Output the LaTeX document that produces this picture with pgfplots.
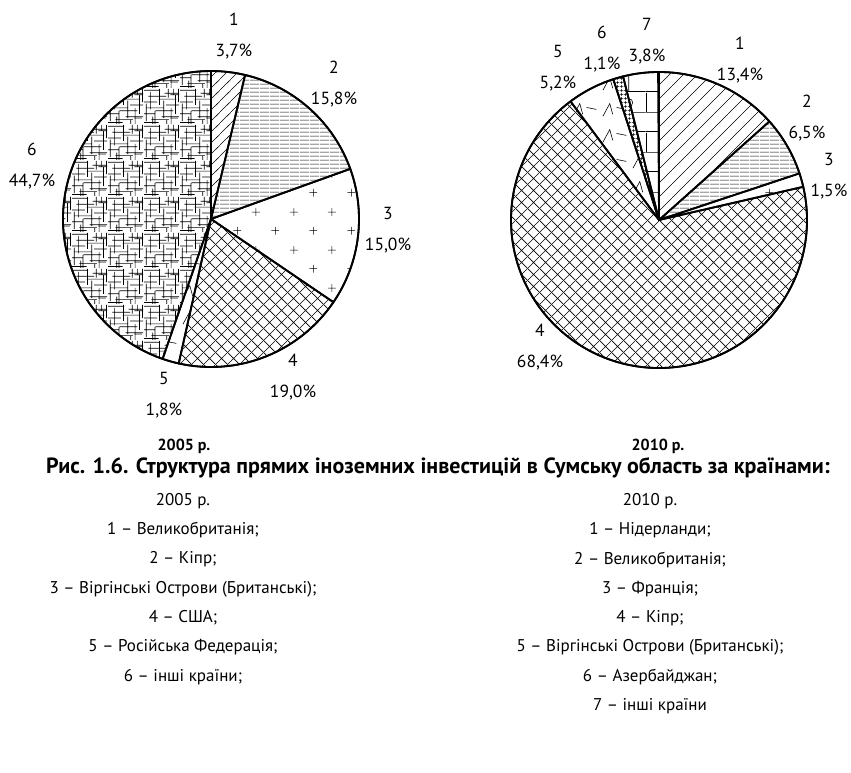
\documentclass[border=0pt]{standalone}
\usepackage{fontspec}
\setmainfont{PT Sans}
\usepackage{pgfplots}
\pgfplotsset{compat=1.18}
\usetikzlibrary{patterns}

% hatch patterns (form only, drawn in black)
\pgfdeclarepatternformonly{my nelines}{\pgfqpoint{0pt}{0pt}}{\pgfqpoint{11pt}{11pt}}{\pgfqpoint{11pt}{11pt}}{%
  \pgfsetlinewidth{0.6pt}%
  \pgfpathmoveto{\pgfqpoint{-1pt}{-1pt}}\pgfpathlineto{\pgfqpoint{12pt}{12pt}}\pgfusepath{stroke}}
\pgfdeclarepatternformonly{my nelineswide}{\pgfqpoint{0pt}{0pt}}{\pgfqpoint{14pt}{14pt}}{\pgfqpoint{14pt}{14pt}}{%
  \pgfsetlinewidth{0.6pt}%
  \pgfpathmoveto{\pgfqpoint{-1pt}{-1pt}}\pgfpathlineto{\pgfqpoint{15pt}{15pt}}\pgfusepath{stroke}}
\pgfdeclarepatternformonly{my hlines}{\pgfqpoint{0pt}{0pt}}{\pgfqpoint{10pt}{4.3pt}}{\pgfqpoint{10pt}{4.3pt}}{%
  \pgfsetlinewidth{0.75pt}%
  \pgfpathmoveto{\pgfqpoint{0pt}{2.15pt}}\pgfpathlineto{\pgfqpoint{10pt}{2.15pt}}\pgfusepath{stroke}}
\pgfdeclarepatternformonly{my xhatch}{\pgfqpoint{0pt}{0pt}}{\pgfqpoint{12pt}{12pt}}{\pgfqpoint{12pt}{12pt}}{%
  \pgfsetlinewidth{0.6pt}%
  \pgfpathmoveto{\pgfqpoint{-1pt}{-1pt}}\pgfpathlineto{\pgfqpoint{13pt}{13pt}}%
  \pgfpathmoveto{\pgfqpoint{-1pt}{13pt}}\pgfpathlineto{\pgfqpoint{13pt}{-1pt}}\pgfusepath{stroke}}
\pgfdeclarepatternformonly{my plus}{\pgfqpoint{0pt}{0pt}}{\pgfqpoint{38pt}{38pt}}{\pgfqpoint{38pt}{38pt}}{%
  \pgfsetlinewidth{0.6pt}%
  \pgfpathmoveto{\pgfqpoint{5.5pt}{9.5pt}}\pgfpathlineto{\pgfqpoint{13.5pt}{9.5pt}}%
  \pgfpathmoveto{\pgfqpoint{9.5pt}{5.5pt}}\pgfpathlineto{\pgfqpoint{9.5pt}{13.5pt}}%
  \pgfpathmoveto{\pgfqpoint{24.5pt}{28.5pt}}\pgfpathlineto{\pgfqpoint{32.5pt}{28.5pt}}%
  \pgfpathmoveto{\pgfqpoint{28.5pt}{24.5pt}}\pgfpathlineto{\pgfqpoint{28.5pt}{32.5pt}}\pgfusepath{stroke}}
\pgfdeclarepatternformonly{my finegrid}{\pgfqpoint{0pt}{0pt}}{\pgfqpoint{4pt}{4pt}}{\pgfqpoint{4pt}{4pt}}{%
  \pgfsetlinewidth{0.5pt}%
  \pgfpathmoveto{\pgfqpoint{0pt}{2pt}}\pgfpathlineto{\pgfqpoint{4pt}{2pt}}%
  \pgfpathmoveto{\pgfqpoint{2pt}{0pt}}\pgfpathlineto{\pgfqpoint{2pt}{4pt}}\pgfusepath{stroke}}
\pgfdeclarepatternformonly{my carets}{\pgfqpoint{0pt}{0pt}}{\pgfqpoint{30pt}{26pt}}{\pgfqpoint{30pt}{26pt}}{%
  \pgfsetlinewidth{0.6pt}%
  \pgfpathmoveto{\pgfqpoint{3pt}{6pt}}\pgfpathlineto{\pgfqpoint{10pt}{19pt}}\pgfpathlineto{\pgfqpoint{13pt}{8pt}}%
  \pgfpathmoveto{\pgfqpoint{17pt}{15pt}}\pgfpathlineto{\pgfqpoint{27pt}{13pt}}\pgfusepath{stroke}}
\pgfdeclarepatternformonly{my randbricks}{\pgfqpoint{0pt}{0pt}}{\pgfqpoint{36pt}{36pt}}{\pgfqpoint{36pt}{36pt}}{%
  \pgfsetlinewidth{0.7pt}%
  \foreach \y/\a/\b in {2/0/20,6/10/34,10/24/48,14/0/14,18/16/40,22/4/26,26/30/48,30/0/18,34/20/44,38/6/30,42/28/48,46/0/22,8/36/46,40/36/48}{%
    \pgfpathmoveto{\pgfpoint{0.75*\a pt}{0.75*\y pt}}\pgfpathlineto{\pgfpoint{0.75*\b pt}{0.75*\y pt}}}%
  \foreach \x/\a/\b in {3/4/28,9/20/44,15/0/18,21/26/48,27/8/32,33/36/48,37/0/22,43/14/40,47/30/48,12/0/10,31/0/6,40/40/48}{%
    \pgfpathmoveto{\pgfpoint{0.75*\x pt}{0.75*\a pt}}\pgfpathlineto{\pgfpoint{0.75*\x pt}{0.75*\b pt}}}%
  \pgfusepath{stroke}}
\pgfdeclarepatternformonly{my bricksdot}{\pgfqpoint{0pt}{0pt}}{\pgfqpoint{34pt}{40pt}}{\pgfqpoint{34pt}{40pt}}{%
  \pgfsetlinewidth{0.6pt}%
  \pgfpathmoveto{\pgfqpoint{0pt}{0.5pt}}\pgfpathlineto{\pgfqpoint{34pt}{0.5pt}}%
  \pgfpathmoveto{\pgfqpoint{0pt}{20pt}}\pgfpathlineto{\pgfqpoint{34pt}{20pt}}%
  \pgfpathmoveto{\pgfqpoint{17pt}{0pt}}\pgfpathlineto{\pgfqpoint{17pt}{20pt}}%
  \pgfpathmoveto{\pgfqpoint{0.5pt}{20pt}}\pgfpathlineto{\pgfqpoint{0.5pt}{40pt}}%
  \pgfpathcircle{\pgfqpoint{17pt}{30pt}}{4pt}\pgfusepath{stroke}%
  \pgfpathcircle{\pgfqpoint{17pt}{30pt}}{0.9pt}\pgfusepath{fill}}

% one pie: list of percent/pattern, clockwise from 12 o'clock
\newcommand\piechart[1]{%
  \xdef\cum{90}%
  \foreach \v/\pat in {#1}{%
    \pgfmathsetmacro\a{\cum}%
    \pgfmathsetmacro\b{\cum-3.6*\v}%
    \edef\temp{\noexpand\filldraw[draw=black, line width=1.8pt, line join=round, pattern=\pat]
      (axis cs:0,0) -- ++(\a:148pt) arc[start angle=\a, end angle=\b, radius=148pt] -- cycle;}%
    \temp
    \xdef\cum{\b}%
  }%
  \draw[line width=1.8pt] (axis cs:0,0) circle[radius=148pt];
}
\newcommand\lab[3]{\node[align=center, inner sep=0pt, font=\fontsize{17.5}{31}\selectfont] at (#1pt,-#2pt) {#3};}

\pgfplotsset{pieaxis/.style={anchor=center, x=1pt, y=1pt,
  xmin=-160, xmax=160, ymin=-160, ymax=160, hide axis, clip=false}}

\begin{document}
\begin{tikzpicture}
\useasboundingbox (0,0) rectangle (851pt,-772pt);

% 2005
\begin{axis}[pieaxis, at={(211pt,-219pt)}]
\piechart{3.7/my nelines, 15.8/my hlines, 15.0/my plus, 19.0/my xhatch, 1.8/my carets, 44.7/my randbricks}
\end{axis}

% 2010
\begin{axis}[pieaxis, at={(659pt,-220pt)}]
\piechart{13.4/my nelineswide, 6.5/my hlines, 1.5/my plus, 68.4/my xhatch, 5.2/my carets, 1.1/my finegrid, 3.8/my bricksdot}
\end{axis}

\lab{234}{36}{1\\3,7\%}
\lab{334}{84}{2\\15,8\%}
\lab{388}{230}{3\\15,0\%}
\lab{293}{377}{4\\19,0\%}
\lab{164}{395}{5\\1,8\%}
\lab{32}{166}{6\\44,7\%}

\lab{740}{60}{1\\13,4\%}
\lab{807}{118}{2\\6,5\%}
\lab{829}{176}{3\\1,5\%}
\lab{540}{347}{4\\68,4\%}
\lab{558}{68}{5\\5,2\%}
\lab{602}{49}{6\\1,1\%}
\lab{647}{41}{7\\3,8\%}

\node[font=\fontsize{16}{18}\selectfont\bfseries] at (184pt,-446pt) {2005 р.};
\node[font=\fontsize{16}{18}\selectfont\bfseries] at (658pt,-446pt) {2010 р.};
\node[font=\fontsize{22}{26}\selectfont\bfseries] at (438pt,-468pt)
  {Рис. 1.6. Структура прямих іноземних інвестицій в Сумську область за країнами:};

\foreach \t [count=\i from 0] in {2005 р., 1 – Великобританія;, 2 – Кіпр;,
  3 – Віргінські Острови (Британські);, 4 – США;, 5 – Російська Федерація;, 6 – інші країни;}
  \node[font=\fontsize{17}{20}\selectfont] at (183pt,{-501pt-29.3pt*\i}) {\t};
\foreach \t [count=\i from 0] in {2010 р., 1 – Нідерланди;, 2 – Великобританія;, 3 – Франція;,
  4 – Кіпр;, 5 – Віргінські Острови (Британські);, 6 – Азербайджан;, 7 – інші країни}
  \node[font=\fontsize{17}{20}\selectfont] at (650pt,{-501pt-29.3pt*\i}) {\t};
\end{tikzpicture}
\end{document}
